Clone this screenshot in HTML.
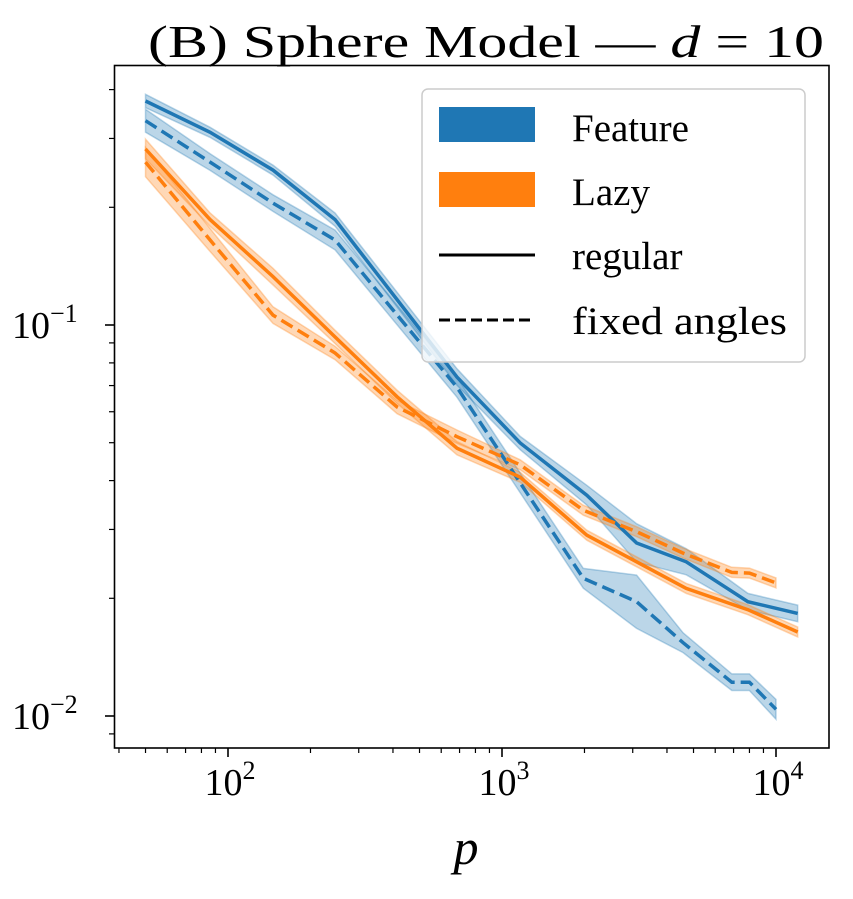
<!DOCTYPE html>
<html><head><meta charset="utf-8"><style>
body{margin:0;background:#fff}
svg text{font-family:"Liberation Serif","DejaVu Serif",serif;fill:#000}
</style></head><body>
<svg id="chart" width="853" height="894" viewBox="0 0 853 894" xmlns="http://www.w3.org/2000/svg">
<text x="486" y="57" font-size="46" text-anchor="middle" textLength="676" lengthAdjust="spacingAndGlyphs">(B) Sphere Model — <tspan font-style="italic">d</tspan> = 10</text>
<g id="bands"></g><g id="lines"></g>
<rect x="114.5" y="65.5" width="714.5" height="682.5" fill="none" stroke="#000" stroke-width="1.6"/>
<g id="ticks"></g>
<text x="466" y="864" font-size="50" font-style="italic" text-anchor="middle">p</text>
<g>
<rect x="422" y="89" width="383" height="273" rx="6" fill="#fff" fill-opacity="0.8" stroke="#ccc" stroke-width="1.5"/>
<rect x="439" y="107" width="96" height="35" fill="#1f77b4"/>
<text x="572" y="141" font-size="39">Feature</text>
<rect x="439" y="172" width="96" height="35" fill="#ff7f0e"/>
<text x="572" y="205" font-size="39">Lazy</text>
<line x1="439" x2="535" y1="255" y2="255" stroke="#000" stroke-width="3"/>
<text x="572" y="269" font-size="39">regular</text>
<line x1="439" x2="535" y1="320" y2="320" stroke="#000" stroke-width="3" stroke-dasharray="11,5"/>
<text x="572" y="334" font-size="39" textLength="215" lengthAdjust="spacingAndGlyphs">fixed angles</text>
</g>
</svg>
<script>
const featRegP=[50,86,146,246,685,1165,2040,3100,4700,7900,12000];
const featRegV=[0.374,0.311,0.249,0.186,0.0736,0.0499,0.0367,0.0277,0.0248,0.0196,0.0183];
const featRegErr=[0.04,0.03,0.03,0.04,0.05,0.04,0.06,0.12,0.08,0.05,0.05];
const featFixP=[50,86,146,246,685,1980,3100,4580,6900,8000,10000];
const featFixV=[0.333,0.261,0.205,0.165,0.0693,0.0225,0.0196,0.0154,0.0122,0.0122,0.0104];
const featFixErr=[0.07,0.05,0.05,0.06,0.06,0.06,0.17,0.06,0.05,0.05,0.06];
const lazyRegP=[50,86,146,246,414,685,1165,2040,3100,4700,7900,12000];
const lazyRegV=[0.282,0.186,0.133,0.0932,0.0655,0.0484,0.0408,0.029,0.0248,0.0212,0.0187,0.0164];
const lazyRegErr=[0.06,0.04,0.05,0.04,0.04,0.04,0.03,0.03,0.03,0.03,0.03,0.03];
const lazyFixP=[50,86,146,246,414,685,1165,1980,3100,4580,6900,8000,10000];
const lazyFixV=[0.261,0.165,0.106,0.0848,0.0617,0.0518,0.0439,0.0336,0.0296,0.0261,0.0233,0.0232,0.0219];
const lazyFixErr=[0.09,0.07,0.05,0.04,0.04,0.04,0.03,0.03,0.03,0.03,0.03,0.03,0.03];
const xTickVals=[100,1000,10000];const xTickExp=["2","3","4"];
const yTickVals=[0.1,0.01];const yTickExp=["−1","−2"];
const NS="http://www.w3.org/2000/svg";
function X(p){return 228+274*(Math.log10(p)-2);}
function Y(v){return 325-391*(Math.log10(v)+1);}
function el(t,a,par){const e=document.createElementNS(NS,t);for(const k in a)e.setAttribute(k,a[k]);document.getElementById(par).appendChild(e);return e;}
function series(P,V,E,col,dash,name){
 let up=P.map((p,i)=>X(p).toFixed(1)+","+Y(V[i]*(1+E[i])).toFixed(1));
 let dn=P.map((p,i)=>X(p).toFixed(1)+","+Y(V[i]/(1+E[i])).toFixed(1)).reverse();
 const b=el("polygon",{points:up.concat(dn).join(" "),fill:col,"fill-opacity":0.3,stroke:col,"stroke-opacity":0.3,"stroke-width":1.5},"bands");
 
 
 const l=el("polyline",{points:P.map((p,i)=>X(p).toFixed(1)+","+Y(V[i]).toFixed(1)).join(" "),fill:"none",stroke:col,"stroke-width":3.5,"stroke-dasharray":dash?"13,6":"none"},"lines");
 
 
}
series(featRegP,featRegV,featRegErr,"#1f77b4",false,"feature-regular");
series(featFixP,featFixV,featFixErr,"#1f77b4",true,"feature-fixed");
series(lazyRegP,lazyRegV,lazyRegErr,"#ff7f0e",false,"lazy-regular");
series(lazyFixP,lazyFixV,lazyFixErr,"#ff7f0e",true,"lazy-fixed");
for(let d=10;d<=10000;d*=10)for(let m=2;m<=9;m++){const p=d*m;const x=X(p);if(x>115&&x<829){const t=el("line",{x1:x,x2:x,y1:748,y2:753,stroke:"#000","stroke-width":1.2},"ticks");}}
for(let d=0.001;d<=1;d*=10)for(let m=2;m<=9;m++){const v=d*m;const y=Y(v);if(y>66&&y<748){const t=el("line",{x1:109,x2:114.5,y1:y,y2:y,stroke:"#000","stroke-width":1.2},"ticks");}}
xTickVals.forEach((v,i)=>{const x=X(v);
 const t=el("line",{x1:x,x2:x,y1:748,y2:757,stroke:"#000","stroke-width":1.6},"ticks");
 const tx=el("text",{x:x+2,y:795,"font-size":38,"text-anchor":"middle"},"ticks");
 tx.innerHTML='10<tspan dy="-16" font-size="26">'+xTickExp[i]+'</tspan>';});
yTickVals.forEach((v,i)=>{const y=Y(v);
 const t=el("line",{x1:105,x2:114.5,y1:y,y2:y,stroke:"#000","stroke-width":1.6},"ticks");
 const tx=el("text",{x:12,y:y+13,"font-size":38},"ticks");
 tx.innerHTML='10<tspan dy="-16" font-size="26">'+yTickExp[i]+'</tspan>';});
</script>
</body></html>
